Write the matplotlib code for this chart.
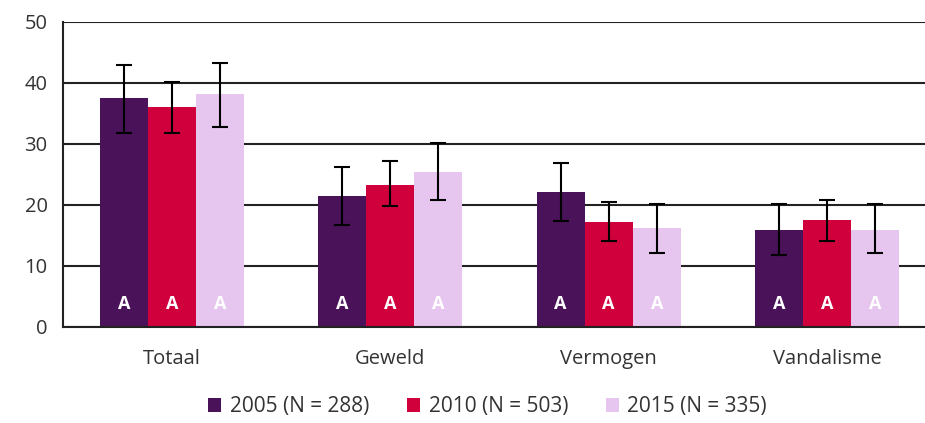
import numpy as np
import matplotlib.pyplot as plt

categories = ['Totaal', 'Geweld', 'Vermogen', 'Vandalisme']
series = ['2005 (N = 288)', '2010 (N = 503)', '2015 (N = 335)']
colors = ['#4a1258', '#cf003c', '#e6c5ee']

values = [
    [37.5, 21.5, 22.1, 15.9],
    [36.1, 23.3, 17.2, 17.5],
    [38.2, 25.4, 16.2, 15.9],
]
err_low = [
    [31.8, 16.7, 17.4, 11.8],
    [31.8, 19.8, 14.1, 14.1],
    [32.8, 20.8, 12.1, 12.1],
]
err_high = [
    [42.9, 26.2, 26.9, 20.2],
    [40.2, 27.2, 20.5, 20.8],
    [43.3, 30.2, 20.2, 20.2],
]
sig_labels = ['A', 'A', 'A']

plt.rcParams['font.family'] = ['Open Sans', 'DejaVu Sans']

fig = plt.figure(figsize=(9.25, 4.23), dpi=100)
ax = fig.add_axes([0.068, 0.227, 0.932, 0.721])

x = np.arange(len(categories))
w = 0.22
for i, (name, c) in enumerate(zip(series, colors)):
    pos = x + (i - 1) * w
    v = np.array(values[i])
    lo = v - np.array(err_low[i])
    hi = np.array(err_high[i]) - v
    ax.bar(pos, v, width=w, color=c, label=name, zorder=2)
    ax.errorbar(pos, v, yerr=[lo, hi], fmt='none', ecolor='black',
                elinewidth=1.5, capsize=6, capthick=1.5, zorder=3)
    for p in pos:
        ax.text(p, 3.8, sig_labels[i], color='white', ha='center', va='center',
                fontsize=13, fontweight='bold', zorder=4)

ax.set_ylim(0, 50)
ax.set_xlim(-0.5, 3.449)
ax.set_yticks(range(0, 51, 10))
ax.yaxis.grid(True, color='#222222', linewidth=1.5, zorder=0)
ax.set_axisbelow(True)
ax.set_xticks(x)
ax.set_xticklabels(categories)
ax.tick_params(axis='both', length=0, labelsize=14.5, colors='#333333')
ax.tick_params(axis='x', pad=16)
ax.tick_params(axis='y', pad=11)
for s in ['top', 'right']:
    ax.spines[s].set_visible(False)
for s in ['left', 'bottom']:
    ax.spines[s].set_color('#222222')
    ax.spines[s].set_linewidth(1.5)

fig.legend(loc='lower center', bbox_to_anchor=(0.527, -0.03), ncol=3, frameon=False,
           fontsize=15, handlelength=0.65, handleheight=0.65, handletextpad=0.4,
           columnspacing=1.8, labelcolor='#333333')

plt.savefig('out.png', dpi=100)
